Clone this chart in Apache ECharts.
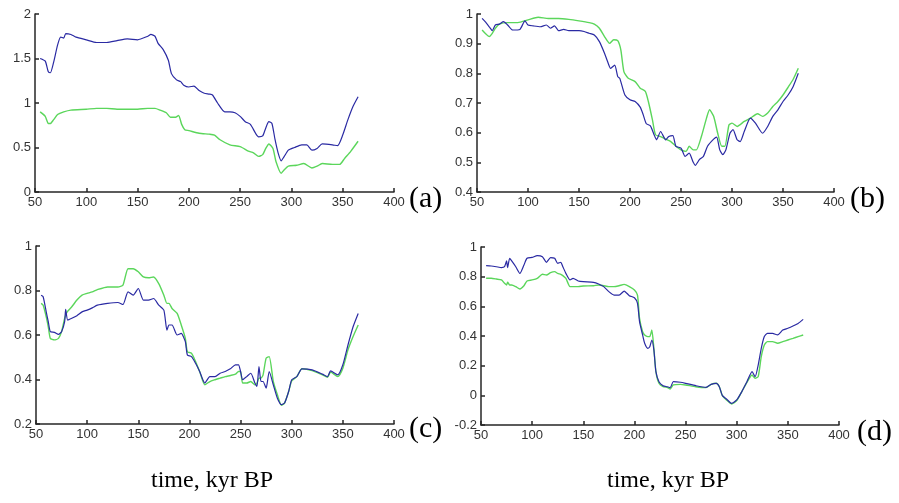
<!DOCTYPE html>
<html>
<head>
<meta charset="utf-8">
<script src="https://cdn.jsdelivr.net/npm/echarts@6/dist/echarts.min.js"></script>
<style>
  html, body { margin: 0; padding: 0; background: #fff; }
  #main { width: 899px; height: 503px; }
</style>
</head>
<body>
<div id="main"></div>
<script>
// panel (a)  [time kyr BP, value]
var aBlue = [[55,1.50],[60,1.47],[63,1.35],[65,1.34],[68,1.45],[72,1.65],[75,1.74],[78,1.73],[80,1.78],[85,1.77],[90,1.74],[100,1.71],[110,1.68],[120,1.68],[130,1.70],[140,1.72],[150,1.71],[160,1.75],[163,1.77],[167,1.75],[170,1.67],[175,1.60],[180,1.48],[183,1.33],[188,1.26],[192,1.24],[195,1.20],[200,1.18],[205,1.19],[210,1.14],[215,1.11],[220,1.10],[223,1.09],[228,1.00],[235,0.90],[240,0.90],[245,0.89],[250,0.85],[255,0.79],[260,0.76],[265,0.66],[268,0.62],[272,0.63],[275,0.72],[278,0.79],[281,0.77],[284,0.59],[287,0.44],[290,0.35],[293,0.40],[297,0.47],[303,0.50],[310,0.53],[315,0.53],[320,0.47],[325,0.49],[330,0.54],[340,0.53],[345,0.52],[350,0.64],[355,0.81],[360,0.96],[365,1.07]];
var aGreen = [[55,0.90],[60,0.85],[63,0.77],[65,0.77],[68,0.81],[72,0.87],[78,0.90],[85,0.92],[100,0.93],[110,0.94],[120,0.94],[130,0.93],[140,0.93],[150,0.93],[160,0.94],[167,0.94],[172,0.92],[178,0.89],[182,0.84],[187,0.84],[190,0.86],[193,0.76],[196,0.70],[200,0.69],[210,0.66],[220,0.65],[225,0.64],[230,0.59],[240,0.53],[250,0.51],[258,0.46],[263,0.44],[268,0.40],[272,0.42],[275,0.49],[278,0.54],[282,0.49],[285,0.34],[290,0.21],[293,0.25],[297,0.29],[305,0.30],[312,0.32],[320,0.27],[325,0.29],[330,0.32],[340,0.31],[347,0.31],[352,0.38],[358,0.46],[365,0.57]];

// panel (b)
var bBlue = [[55,0.985],[58,0.974],[62,0.957],[65,0.944],[68,0.963],[72,0.966],[76,0.974],[80,0.963],[85,0.946],[92,0.948],[97,0.977],[100,0.963],[105,0.960],[112,0.957],[118,0.963],[122,0.952],[126,0.960],[130,0.944],[135,0.948],[140,0.944],[150,0.944],[155,0.941],[160,0.935],[165,0.929],[170,0.907],[175,0.868],[178,0.840],[181,0.817],[185,0.828],[188,0.789],[190,0.783],[195,0.727],[200,0.711],[205,0.705],[210,0.686],[213,0.660],[216,0.630],[220,0.623],[224,0.590],[226,0.576],[230,0.604],[235,0.576],[238,0.587],[242,0.590],[245,0.554],[250,0.548],[254,0.520],[258,0.531],[262,0.500],[264,0.490],[268,0.509],[272,0.520],[276,0.554],[282,0.578],[285,0.585],[288,0.542],[291,0.526],[294,0.542],[298,0.598],[301,0.610],[305,0.576],[308,0.570],[312,0.604],[318,0.649],[323,0.632],[330,0.598],[335,0.621],[340,0.655],[345,0.677],[350,0.705],[355,0.727],[360,0.756],[365,0.800]];
var bGreen = [[55,0.946],[58,0.935],[62,0.924],[65,0.935],[68,0.952],[72,0.966],[80,0.971],[90,0.971],[100,0.980],[110,0.989],[120,0.985],[130,0.985],[140,0.982],[150,0.977],[160,0.971],[165,0.966],[170,0.952],[175,0.924],[180,0.901],[184,0.913],[188,0.910],[191,0.879],[194,0.806],[198,0.784],[205,0.772],[210,0.750],[215,0.739],[218,0.705],[222,0.643],[225,0.593],[230,0.587],[235,0.578],[240,0.570],[245,0.554],[250,0.542],[255,0.537],[258,0.554],[262,0.542],[265,0.542],[270,0.587],[275,0.649],[278,0.677],[282,0.655],[286,0.598],[290,0.554],[293,0.554],[297,0.626],[300,0.632],[305,0.621],[312,0.638],[318,0.649],[325,0.664],[330,0.655],[335,0.666],[340,0.688],[345,0.705],[350,0.727],[355,0.753],[360,0.780],[365,0.817]];

// panel (c)
var cBlue = [[55,0.779],[57,0.772],[60,0.704],[62,0.660],[64,0.615],[68,0.612],[72,0.603],[75,0.615],[78,0.660],[79,0.715],[81,0.667],[85,0.675],[90,0.687],[95,0.704],[100,0.712],[105,0.722],[110,0.734],[120,0.742],[130,0.746],[135,0.737],[140,0.794],[145,0.779],[150,0.809],[155,0.757],[160,0.757],[165,0.764],[170,0.734],[175,0.712],[178,0.622],[180,0.645],[183,0.645],[188,0.600],[192,0.607],[196,0.570],[198,0.510],[202,0.503],[206,0.473],[210,0.436],[215,0.384],[220,0.413],[225,0.413],[230,0.428],[235,0.436],[240,0.448],[245,0.466],[248,0.466],[250,0.436],[252,0.399],[256,0.413],[260,0.428],[264,0.384],[266,0.369],[268,0.458],[270,0.391],[272,0.391],[275,0.361],[278,0.436],[282,0.376],[286,0.316],[290,0.287],[293,0.294],[297,0.346],[300,0.399],[305,0.413],[310,0.448],[320,0.443],[330,0.424],[335,0.413],[338,0.439],[345,0.421],[350,0.466],[355,0.555],[360,0.637],[365,0.697]];
var cGreen = [[55,0.742],[57,0.734],[60,0.682],[62,0.637],[64,0.585],[68,0.578],[72,0.585],[75,0.615],[78,0.675],[80,0.701],[85,0.727],[90,0.757],[95,0.779],[100,0.787],[105,0.794],[110,0.804],[120,0.816],[130,0.816],[135,0.824],[140,0.898],[145,0.898],[150,0.884],[155,0.861],[160,0.857],[165,0.861],[170,0.831],[175,0.779],[178,0.742],[180,0.742],[183,0.719],[188,0.697],[192,0.645],[196,0.585],[198,0.525],[202,0.518],[206,0.481],[210,0.436],[215,0.376],[220,0.391],[225,0.399],[230,0.406],[235,0.413],[240,0.418],[245,0.424],[248,0.436],[250,0.436],[252,0.384],[256,0.384],[260,0.391],[264,0.376],[266,0.384],[268,0.406],[270,0.406],[272,0.421],[275,0.496],[278,0.503],[282,0.391],[286,0.331],[290,0.284],[293,0.294],[297,0.346],[300,0.394],[305,0.413],[310,0.448],[320,0.440],[330,0.421],[335,0.410],[338,0.433],[345,0.413],[350,0.451],[355,0.533],[360,0.593],[365,0.645]];

// panel (d), shared time axis
var dTime = [55,60,65,70,73,75,76,78,80,84,88,92,95,100,105,110,114,118,122,125,128,130,133,137,140,145,150,160,165,170,175,180,185,190,195,200,203,205,208,210,213,215,217,219,221,224,228,232,235,238,245,250,260,270,275,280,283,286,290,295,300,305,310,315,318,321,324,327,330,335,340,345,350,355,360,365];
var dBlue = [0.874,0.872,0.867,0.861,0.867,0.906,0.861,0.924,0.906,0.867,0.822,0.879,0.924,0.930,0.942,0.935,0.897,0.928,0.924,0.890,0.897,0.867,0.822,0.778,0.789,0.771,0.766,0.762,0.751,0.733,0.699,0.676,0.676,0.703,0.672,0.658,0.620,0.497,0.407,0.351,0.317,0.328,0.373,0.306,0.160,0.092,0.065,0.058,0.052,0.092,0.088,0.081,0.065,0.054,0.074,0.081,0.058,-0.002,-0.025,-0.054,-0.031,0.025,0.092,0.160,0.126,0.204,0.317,0.396,0.418,0.418,0.407,0.440,0.452,0.467,0.485,0.512];
var dGreen = [0.789,0.789,0.784,0.778,0.755,0.744,0.762,0.744,0.744,0.733,0.717,0.739,0.771,0.778,0.789,0.816,0.811,0.827,0.834,0.822,0.816,0.807,0.789,0.733,0.733,0.733,0.737,0.739,0.744,0.739,0.733,0.733,0.739,0.748,0.733,0.710,0.676,0.519,0.429,0.407,0.396,0.396,0.440,0.317,0.160,0.081,0.058,0.054,0.043,0.070,0.074,0.070,0.058,0.052,0.074,0.081,0.058,-0.002,-0.031,-0.058,-0.036,0.025,0.088,0.137,0.115,0.126,0.261,0.339,0.362,0.362,0.351,0.362,0.373,0.384,0.396,0.407];

var xTicks = { min: 50, max: 400, interval: 50 };
var yRanges = [
  { min: 0, max: 2, interval: 0.5 },
  { min: 0.4, max: 1, interval: 0.1 },
  { min: 0.2, max: 1, interval: 0.2 },
  { min: -0.2, max: 1, interval: 0.2 }
];
var panelTags = ['(a)', '(b)', '(c)', '(d)'];
var xTitle = 'time, kyr BP';

function zip(xs, ys) {
  return xs.map(function (x, i) { return [x, ys[i]]; });
}

var BLUE = '#2a2aa3';
var GREEN = '#5bd65b';

var grids = [
  { left: 35, top: 14, width: 359, height: 178 },
  { left: 477, top: 14, width: 357, height: 178 },
  { left: 36, top: 246, width: 358, height: 178 },
  { left: 481, top: 247, width: 358, height: 178 }
];

var axisLineStyle = { color: '#262626', width: 1.5 };
var tickLabel = { color: '#333', fontSize: 13, fontFamily: 'Liberation Sans' };

function fmt(v) {
  // matlab-like labels: 0.5 -> 0.5, 1 -> 1, -0.2 -> -0.2
  return String(Math.round(v * 10) / 10);
}

var xAxes = grids.map(function (g, i) {
  return {
    gridIndex: i, type: 'value',
    min: xTicks.min, max: xTicks.max, interval: xTicks.interval,
    axisLine: { show: true, onZero: false, lineStyle: axisLineStyle },
    axisTick: { show: true, inside: true, length: 4, lineStyle: axisLineStyle },
    axisLabel: Object.assign({ margin: 4 }, tickLabel),
    splitLine: { show: false }
  };
});

var yAxes = grids.map(function (g, i) {
  var r = yRanges[i];
  return {
    gridIndex: i, type: 'value',
    min: r.min, max: r.max, interval: r.interval,
    axisLine: { show: true, onZero: false, lineStyle: axisLineStyle },
    axisTick: { show: true, inside: true, length: 4, lineStyle: axisLineStyle },
    axisLabel: Object.assign({ margin: 4, formatter: fmt }, tickLabel),
    splitLine: { show: false }
  };
});

var panels = [
  [aGreen, aBlue],
  [bGreen, bBlue],
  [cGreen, cBlue],
  [zip(dTime, dGreen), zip(dTime, dBlue)]
];

var series = [];
panels.forEach(function (p, i) {
  series.push({
    type: 'line', xAxisIndex: i, yAxisIndex: i, data: p[0],
    showSymbol: false, smooth: 0.2, animation: false,
    lineStyle: { color: GREEN, width: 1.4 }
  });
  series.push({
    type: 'line', xAxisIndex: i, yAxisIndex: i, data: p[1],
    showSymbol: false, smooth: 0.2, animation: false,
    lineStyle: { color: BLUE, width: 1.2 }
  });
});

var tagPos = [[409, 201], [850, 201], [409, 431], [857, 434]];
var graphics = tagPos.map(function (p, i) {
  return {
    type: 'text', left: p[0], top: p[1] - 17,
    style: { text: panelTags[i], fill: '#000', font: '30px "Liberation Serif"' }
  };
});
[[212, 481], [668, 481]].forEach(function (p) {
  graphics.push({
    type: 'text', x: p[0], y: p[1],
    style: { text: xTitle, fill: '#000', font: '24px "Liberation Serif"', textAlign: 'center', textVerticalAlign: 'middle' }
  });
});

var myChart = echarts.init(document.getElementById('main'));
var option = {
  backgroundColor: '#fff',
  animation: false,
  grid: grids,
  xAxis: xAxes,
  yAxis: yAxes,
  series: series,
  graphic: graphics
};
myChart.setOption(option);
</script>
</body>
</html>
